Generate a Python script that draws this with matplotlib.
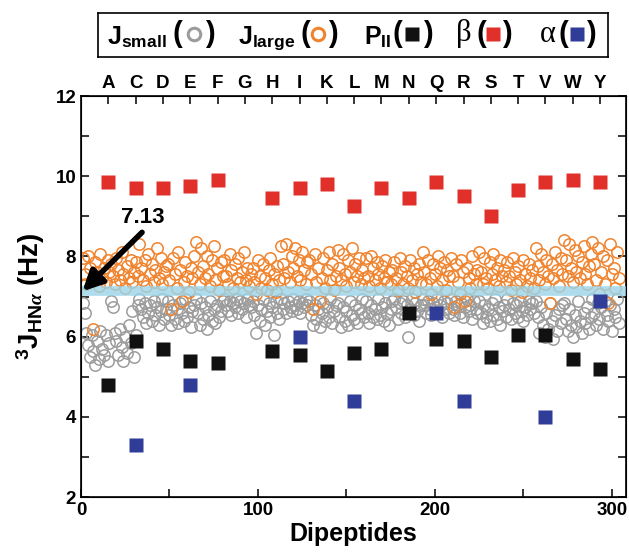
import numpy as np
import matplotlib
matplotlib.use('Agg')
import matplotlib.pyplot as plt

plt.rcParams['font.family'] = ['Liberation Sans', 'DejaVu Sans']
plt.rcParams['font.weight'] = 'bold'
plt.rcParams['mathtext.fontset'] = 'custom'
plt.rcParams['mathtext.rm'] = 'Liberation Sans:bold'
plt.rcParams['mathtext.bf'] = 'Liberation Sans:bold'
plt.rcParams['mathtext.it'] = 'Liberation Serif:italic'

# residue letters (top axis)
residues = ['A', 'C', 'D', 'E', 'F', 'G', 'H', 'I', 'K', 'L', 'M', 'N', 'Q', 'R', 'S', 'T', 'V', 'W', 'Y']
res_pos = [15.4, 30.9, 46.3, 61.8, 77.2, 92.6, 108.1, 123.5, 139.0, 154.4,
           169.8, 185.3, 200.7, 216.2, 231.6, 247.0, 262.5, 277.9, 293.4]

# beta / PII / alpha reference values per residue (nan = no point)
beta = [9.85, 9.7, 9.7, 9.75, 9.9, np.nan, 9.45, 9.7, 9.8, 9.25,
        9.7, 9.45, 9.85, 9.5, 9.0, 9.65, 9.85, 9.9, 9.85]
pii = [4.8, 5.9, 5.7, 5.4, 5.35, np.nan, 5.65, 5.55, 5.15, 5.6,
       5.7, 6.6, 5.95, 5.9, 5.5, 6.05, 6.05, 5.45, 5.2]
alpha = [np.nan, 3.3, np.nan, 4.8, np.nan, np.nan, np.nan, 6.0, np.nan, 4.4,
         np.nan, np.nan, 6.6, 4.4, np.nan, np.nan, 4.0, np.nan, 6.9]

# dipeptide J couplings, 16 per residue block
j_large = [
    7.95, 7.55, 7.3, 8.0, 7.7, 7.4, 6.2, 7.85, 7.6, 7.25, 8.05, 7.45, 7.7, 7.35, 7.9, 7.6,
    7.8, 7.5, 7.3, 7.95, 7.65, 7.4, 8.1, 7.55, 7.2, 7.75, 7.45, 7.9, 7.35, 7.6, 7.85, 7.5,
    8.3, 7.7, 7.4, 7.9, 7.25, 8.05, 7.55, 7.8, 7.35, 7.65, 8.2, 7.45, 7.95, 7.3, 7.6, 7.75,
    7.8, 7.4, 6.7, 7.95, 7.55, 7.2, 8.1, 7.65, 6.9, 7.35, 7.85, 7.5, 7.1, 7.7, 7.45, 8.0,
    8.35, 7.6, 7.3, 8.2, 7.75, 7.45, 8.0, 7.55, 7.25, 7.9, 8.25, 7.4, 7.7, 7.15, 7.85, 7.5,
    7.9, 7.5, 7.3, 8.05, 7.65, 7.2, 7.8, 7.45, 7.95, 7.35, 7.6, 8.1, 7.4, 7.7, 7.25, 7.55,
    7.7, 7.35, 7.05, 7.9, 7.5, 7.2, 7.8, 7.45, 7.15, 7.65, 7.95, 7.3, 7.55, 7.1, 7.75, 7.4,
    8.25, 7.8, 7.45, 8.3, 7.6, 7.35, 8.0, 7.7, 8.2, 7.5, 7.9, 7.4, 8.1, 7.65, 7.3, 7.85,
    7.9, 7.55, 6.7, 8.05, 7.35, 7.7, 6.9, 7.45, 7.95, 7.2, 7.65, 8.1, 7.4, 7.8, 7.15, 7.5,
    8.15, 7.7, 7.4, 8.05, 7.55, 7.25, 7.9, 7.6, 8.2, 7.35, 7.8, 7.5, 7.95, 7.3, 7.65, 7.45,
    7.95, 7.5, 7.25, 8.0, 7.7, 7.4, 7.85, 7.55, 7.2, 7.75, 7.45, 7.9, 7.35, 7.6, 7.3, 7.65,
    7.85, 7.45, 7.15, 7.95, 7.6, 7.3, 7.75, 7.5, 7.2, 7.9, 7.4, 7.7, 7.1, 7.55, 7.8, 7.35,
    8.1, 7.6, 7.3, 7.9, 7.45, 7.05, 7.8, 7.55, 7.25, 8.0, 7.7, 7.4, 7.85, 7.15, 7.65, 7.5,
    7.95, 7.5, 6.75, 7.8, 7.35, 7.05, 7.9, 7.6, 6.9, 7.7, 7.45, 7.2, 8.0, 7.55, 7.3, 7.65,
    8.1, 7.6, 7.3, 7.95, 7.45, 7.2, 7.85, 7.55, 8.05, 7.4, 7.7, 7.25, 7.9, 7.5, 7.65, 7.35,
    7.85, 7.5, 7.15, 7.95, 7.6, 7.3, 7.75, 7.4, 7.1, 7.9, 7.55, 7.25, 7.8, 7.45, 7.65, 7.2,
    8.2, 7.75, 7.4, 8.05, 7.6, 7.3, 7.9, 7.5, 6.85, 7.8, 7.45, 8.1, 7.65, 7.25, 7.95, 7.55,
    8.4, 7.9, 7.5, 8.3, 7.7, 7.35, 8.15, 7.6, 8.0, 7.45, 7.85, 8.25, 7.55, 7.3, 7.75, 8.05,
    8.35, 7.8, 7.4, 8.2, 7.05, 7.6, 8.0, 7.3, 7.9, 6.85, 8.3, 7.55, 7.7, 7.2, 8.1, 7.45,
]
j_small = [
    6.85, 6.6, 6.1, 5.8, 5.5, 6.05, 5.65, 5.3, 5.9, 5.45, 6.15, 5.7, 5.55, 6.05, 5.4, 5.85,
    6.9, 6.75, 6.1, 5.9, 5.55, 6.2, 5.75, 5.4, 6.0, 5.6, 6.3, 5.85, 6.65, 5.5, 6.05, 6.8,
    6.95, 6.7, 6.5, 6.85, 6.35, 6.6, 6.8, 6.4, 6.9, 6.55, 6.75, 6.3, 6.65, 6.95, 6.45, 6.7,
    6.9, 6.55, 6.3, 6.8, 6.45, 6.7, 6.35, 6.85, 6.6, 6.4, 6.95, 6.5, 6.75, 6.25, 6.65, 6.8,
    6.95, 6.6, 6.3, 6.85, 6.45, 6.75, 6.2, 6.55, 6.9, 6.4, 6.7, 6.35, 6.8, 6.5, 6.65, 6.9,
    6.95, 6.8, 6.65, 6.9, 6.55, 6.85, 6.75, 6.95, 6.6, 6.9, 6.7, 6.85, 6.5, 6.95, 6.8, 6.75,
    6.9, 6.55, 6.1, 6.8, 6.4, 6.7, 6.95, 6.3, 6.65, 6.85, 6.5, 6.75, 6.05, 6.9, 6.6, 6.45,
    6.95, 6.7, 6.85, 6.6, 6.9, 6.75, 6.65, 6.95, 6.8, 6.7, 6.9, 6.6, 6.85, 6.75, 6.95, 6.8,
    6.9, 6.55, 6.3, 6.8, 6.45, 6.7, 6.25, 6.6, 6.85, 6.4, 6.75, 6.5, 6.95, 6.35, 6.65, 6.8,
    6.85, 6.5, 6.25, 6.75, 6.4, 6.65, 6.3, 6.9, 6.55, 6.45, 6.8, 6.35, 6.7, 6.6, 6.95, 6.5,
    6.9, 6.6, 6.35, 6.8, 6.5, 6.7, 6.45, 6.95, 6.55, 6.75, 6.4, 6.85, 6.6, 6.3, 6.7, 6.9,
    6.95, 6.75, 6.45, 6.85, 6.6, 6.9, 6.5, 6.8, 6.0, 6.7, 6.95, 6.55, 6.85, 6.65, 6.4, 6.8,
    6.95, 6.8, 6.6, 6.9, 6.7, 6.55, 6.85, 6.75, 6.95, 6.65, 6.8, 6.5, 6.9, 6.7, 6.85, 6.6,
    6.95, 6.7, 6.55, 6.9, 6.8, 6.6, 6.85, 6.5, 6.75, 6.95, 6.65, 6.8, 6.45, 6.9, 6.7, 6.6,
    6.9, 6.6, 6.35, 6.8, 6.5, 6.7, 6.4, 6.85, 6.55, 6.95, 6.45, 6.75, 6.3, 6.65, 6.8, 6.5,
    6.95, 6.7, 6.45, 6.85, 6.6, 6.8, 6.5, 6.9, 6.65, 6.4, 6.75, 6.55, 6.9, 6.7, 6.85, 6.6,
    6.9, 6.5, 6.1, 6.75, 6.3, 6.0, 6.6, 6.2, 6.85, 6.4, 5.95, 6.55, 6.15, 6.7, 6.35, 6.8,
    6.85, 6.45, 6.15, 6.7, 6.3, 6.0, 6.55, 6.25, 6.9, 6.4, 6.1, 6.6, 6.35, 6.75, 6.2, 6.5,
    6.95, 6.6, 6.3, 6.85, 6.45, 6.75, 6.2, 6.9, 6.55, 6.4, 6.8, 6.15, 6.7, 6.5, 6.95, 6.35,
]
j_mean = 7.13

c_grey = '#9c9c9c'
c_orange = '#f0842e'
c_red = '#e1302a'
c_blue = '#2f3d98'
c_band = '#9ad4e8'

dip = np.arange(1, len(j_large) + 1)

fig = plt.figure(figsize=(6.29, 5.58), dpi=100)
ax = fig.add_axes([81 / 629, 1 - 497 / 558, 545 / 629, 401 / 558])

ax.plot(dip, j_small, 'o', ms=8.2, mfc='none', mec=c_grey, mew=1.1, zorder=2)
ax.plot(dip, j_large, 'o', ms=8.2, mfc='none', mec=c_orange, mew=1.1, zorder=2)
ax.axhline(j_mean, color=c_band, lw=7, alpha=0.8, zorder=3)
ax.plot(res_pos, beta, 's', ms=10, color=c_red, mec='none', zorder=4)
ax.plot(res_pos, pii, 's', ms=10, color='#111111', mec='none', zorder=4)
ax.plot(res_pos, alpha, 's', ms=10, color=c_blue, mec='none', zorder=4)

ax.annotate('', xy=(0.8, j_mean), xytext=(34.5, 8.6),
            arrowprops=dict(arrowstyle='-|>', lw=4, color='black',
                            mutation_scale=30, shrinkA=0, shrinkB=0), zorder=5)
ax.text(35, 8.96, '7.13', fontsize=16, fontweight='bold', ha='center', va='center')

ax.set_xlim(0, 308)
ax.set_ylim(2, 12)
ax.set_xticks([0, 100, 200, 300])
ax.set_xticks([50, 150, 250], minor=True)
ax.set_yticks([2, 4, 6, 8, 10, 12])
ax.set_yticks([3, 5, 7, 9, 11], minor=True)
ax.tick_params(which='both', direction='in', top=False, right=True, width=1.1)
ax.tick_params(which='major', length=6, labelsize=13.5)
ax.tick_params(which='minor', length=6)
ax.tick_params(axis='x', which='minor', top=False)
for s in ax.spines.values():
    s.set_linewidth(1.2)

ax.set_xlabel('Dipeptides', fontsize=18, fontweight='bold', labelpad=2)
ax.set_ylabel(r'$^3$J$_{\mathregular{HN}\alpha}$ (Hz)', fontsize=20, fontweight='bold', labelpad=6)

top = ax.twiny()
top.set_xlim(ax.get_xlim())
top.set_xticks(res_pos)
top.set_xticklabels(residues)
top.tick_params(direction='in', length=6, width=1.1, labelsize=13.5, pad=3)

# legend box across the top
lg = fig.add_axes([98 / 629, 1 - 57 / 558, 510 / 629, 44 / 558])
lg.set_xlim(98, 608)
lg.set_ylim(57, 13)
lg.set_xticks([])
lg.set_yticks([])
for s in lg.spines.values():
    s.set_linewidth(1.2)

lab_kw = dict(fontsize=18, fontweight='bold', va='baseline', ha='left')
par_kw = dict(fontsize=21, fontweight='bold', va='center', ha='center')
greek_kw = dict(fontsize=22, fontweight='normal', va='center', ha='center',
                family='Liberation Serif')
yc = 34

lg.text(107, 44, r'J$_{\mathregular{small}}$', **lab_kw)
lg.text(177, yc, '(', **par_kw)
lg.plot(194, yc, 'o', ms=9, mfc='none', mec=c_grey, mew=2.2)
lg.text(210, yc, ')', **par_kw)

lg.text(238, 44, r'J$_{\mathregular{large}}$', **lab_kw)
lg.text(305, yc, '(', **par_kw)
lg.plot(318, yc, 'o', ms=9, mfc='none', mec=c_orange, mew=2.2)
lg.text(333, yc, ')', **par_kw)

lg.text(364, 44, r'P$_{\mathregular{II}}$', **lab_kw)
lg.text(397, yc, '(', **par_kw)
lg.plot(412, yc, 's', ms=10, color='#111111', mec='none')
lg.text(428, yc, ')', **par_kw)

lg.text(464, yc, '\u03b2', **greek_kw)
lg.text(481, yc, '(', **par_kw)
lg.plot(493, yc, 's', ms=10, color=c_red, mec='none')
lg.text(507, yc, ')', **par_kw)

lg.text(548, yc, '\u03b1', **greek_kw)
lg.text(563, yc, '(', **par_kw)
lg.plot(577, yc, 's', ms=10, color=c_blue, mec='none')
lg.text(591, yc, ')', **par_kw)

fig.savefig('out.png', dpi=100)
